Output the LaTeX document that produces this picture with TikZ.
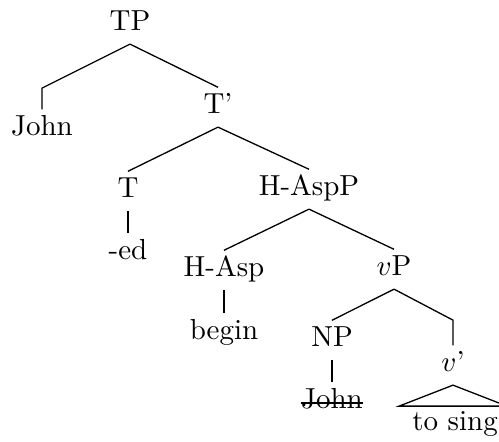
\documentclass[tikz,border=0pt]{standalone}
\begin{document}
\begin{tikzpicture}[x=0.345pt, y=-0.345pt, line width=0.45pt,
    lbl/.style={anchor=base, inner xsep=0pt, inner ysep=4.65pt, text height=4pt, text depth=0pt}]
    \useasboundingbox (0,0) rectangle (499,441);

    % Place the labels of the tree
    \node[lbl] (TP) at (130,30) {TP};
    \node[lbl] (John) at (42,135) {John};
    \node[lbl] (Tbar) at (218,113) {T'};
    \node[lbl] (T) at (128,197) {T};
    \node[lbl] (ed) at (128,259) {-ed};
    \node[lbl] (HAspP) at (309,195) {H-AspP};
    \node[lbl] (HAsp) at (224,276) {H-Asp};
    \node[lbl] (begin) at (224,339) {begin};
    \node[lbl] (vP) at (394,275) {$v$P};
    \node[lbl] (NP) at (332,346) {NP};
    \node[lbl] (JohnT) at (332,408) {John};
    \node[lbl] (vbar) at (453,371) {$v$'};
    \node[lbl] (tosing) at (455,430) {to sing};

    % Strike through the lower copy
    \draw ([yshift=1.75pt]JohnT.base west) -- ([yshift=1.75pt]JohnT.base east);

    % Draw the branches
    \draw (TP.south) -- ++(-88,44) -- (John.north);
    \draw (TP.south) -- (Tbar.north);
    \draw (Tbar.south) -- (T.north);
    \draw (Tbar.south) -- (HAspP.north);
    \draw (T.south) -- (ed.north);
    \draw (HAspP.south) -- (HAsp.north);
    \draw (HAspP.south) -- (vP.north);
    \draw (HAsp.south) -- (begin.north);
    \draw (vP.south) -- (NP.north);
    \draw (vP.south) -- ++(59,31) -- (vbar.north);
    \draw (NP.south) -- (JohnT.north);

    % Triangle over the unanalysed phrase
    \draw (vbar.south) -- ++(-54,21) -- ++(108,0) -- cycle;
\end{tikzpicture}
\end{document}
